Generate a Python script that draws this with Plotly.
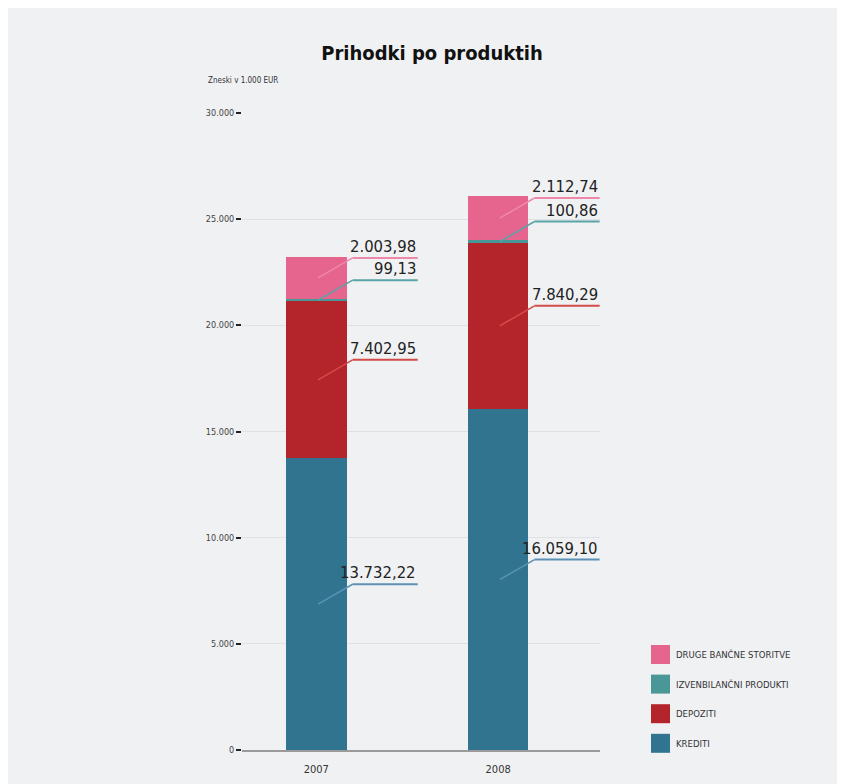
import plotly.graph_objects as go

# ---- data ----
years = ["2007", "2008"]
series_names = ["KREDITI", "DEPOZITI", "IZVENBILANČNI PRODUKTI", "DRUGE BANČNE STORITVE"]
krediti = [13732.22, 16059.10]
depoziti = [7402.95, 7840.29]
izvenbilancni = [99.13, 100.86]
druge = [2003.98, 2112.74]
y_ticks = [0, 5000, 10000, 15000, 20000, 25000, 30000]

series_values = [krediti, depoziti, izvenbilancni, druge]
bar_colors = ["#307490", "#b4252b", "#4a9797", "#e6658f"]
line_colors = ["#5b91b6", "#d24b47", "#5aa3a6", "#ee88aa"]

OFF = 8                                  # page body margin
W, H = 835, 776                          # figure size
PL, PR, PT, PB = 242 - OFF, 600 - OFF, 113 - OFF, 750 - OFF   # plot area in figure px
FONT = "DejaVu Sans Condensed, Roboto Condensed, Roboto, sans-serif"


def px_x(p):
    """page pixel -> paper x"""
    return (p - OFF - PL) / (PR - PL)


def px_y(p):
    """page pixel -> paper y"""
    return (PB - (p - OFF)) / (PB - PT)


def fmt_si(v):
    s = f"{v:,.2f}"
    return s.replace(",", "X").replace(".", ",").replace("X", ".")


fig = go.Figure()
for name, vals, col in zip(series_names, series_values, bar_colors):
    fig.add_trace(go.Bar(x=years, y=vals, name=name, marker=dict(color=col, line=dict(width=0)),
                         width=0.333, showlegend=False, hoverinfo="skip"))

# ---- leader lines and value labels ----
rise = 940
shapes = []
annotations = []
for i, yr in enumerate(years):
    base = 0.0
    for j, vals in enumerate(series_values):
        v = vals[i]
        mid = base + v / 2
        base += v
        level = mid + rise
        x_start, x_bend, x_end = i + 0.01, i + 0.2, i + 0.558
        shapes.append(dict(type="line", xref="x", yref="y", x0=x_start, y0=mid, x1=x_bend, y1=level,
                           line=dict(color=line_colors[j], width=1.5), layer="above"))
        shapes.append(dict(type="line", xref="x", yref="y", x0=x_bend, y0=level, x1=x_end, y1=level,
                           line=dict(color=line_colors[j], width=2), layer="above"))
        annotations.append(dict(x=x_end, y=level, xref="x", yref="y", text=fmt_si(v),
                                showarrow=False, xanchor="right", yanchor="bottom",
                                font=dict(family=FONT, size=16.5, color="#222222")))

# ---- custom legend ----
legend_top = 654.5
legend_step = 29.6
for k, j in enumerate(reversed(range(len(series_names)))):
    cy = legend_top + k * legend_step
    shapes.append(dict(type="rect", xref="paper", yref="paper", x0=px_x(651), x1=px_x(670),
                       y0=px_y(cy + 9.5), y1=px_y(cy - 9.5), fillcolor=bar_colors[j],
                       line=dict(width=0)))
    annotations.append(dict(x=px_x(674), y=px_y(cy), xref="paper", yref="paper",
                            text=series_names[j], showarrow=False, xanchor="left", yanchor="middle",
                            font=dict(family=FONT, size=9.5, color="#333333")))

# ---- subtitle ----
annotations.append(dict(x=px_x(206), y=px_y(80), xref="paper", yref="paper",
                        text="Zneski v 1.000 EUR", showarrow=False, xanchor="left",
                        yanchor="middle", font=dict(family=FONT, size=8, color="#333333")))

fig.update_layout(
    width=W, height=H,
    barmode="stack",
    paper_bgcolor="#f0f1f3",
    plot_bgcolor="rgba(0,0,0,0)",
    margin=dict(l=PL, r=W - PR, t=PT, b=H - PB, autoexpand=False),
    separators=",.",
    title=dict(text="<b>Prihodki po produktih</b>", x=(432 - OFF) / W, y=1 - (53 - OFF) / H,
               xanchor="center", yanchor="middle",
               font=dict(family=FONT, size=20, color="#111111")),
    showlegend=False,
    shapes=shapes,
    annotations=annotations,
    xaxis=dict(type="category", range=[-0.408, 1.56], showline=True, linecolor="#9a9a9a",
               linewidth=2, showgrid=False, ticks="", ticklabelstandoff=8, automargin=False,
               tickfont=dict(family=FONT, size=11, color="#333333"), fixedrange=True),
    yaxis=dict(range=[0, 30000], tickvals=y_ticks, tickformat=",d", showgrid=True,
               gridcolor="#e0e1e4", gridwidth=1, zeroline=False, showline=False, automargin=False,
               ticks="outside", ticklen=5, tickwidth=2, tickcolor="#222222",
               tickfont=dict(family=FONT, size=9, color="#444444"), fixedrange=True),
    font=dict(family=FONT),
)

fig.write_html("out.html")
